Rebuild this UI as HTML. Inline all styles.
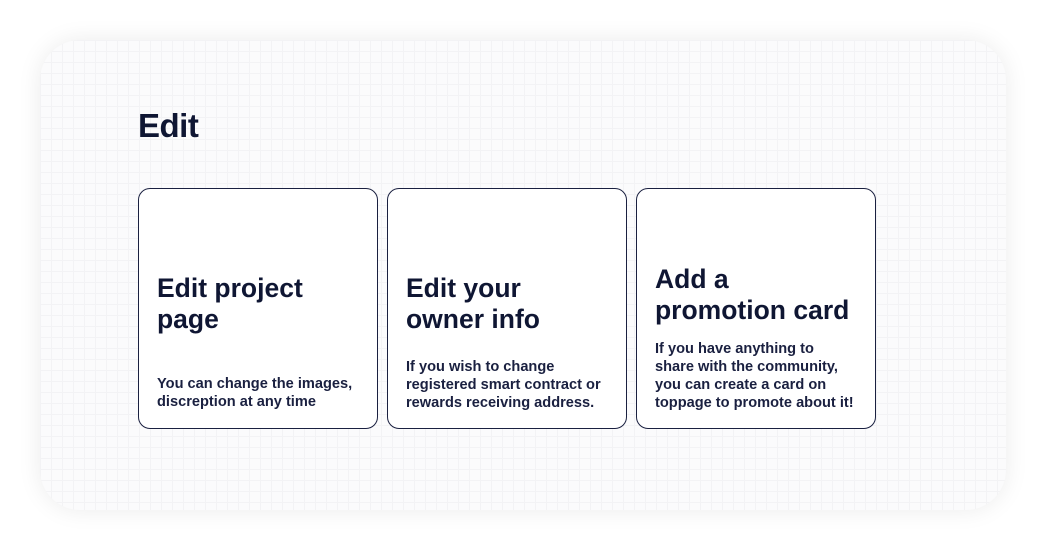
<!DOCTYPE html>
<html><head><style>
html,body{margin:0;padding:0;width:1046px;height:550px;background:#fff;overflow:hidden;font-family:"Liberation Sans",sans-serif;}
.outer{position:absolute;left:40px;top:40px;width:966px;height:470px;border-radius:40px;background-color:#fbfbfc;
background-image:linear-gradient(#f3f3f5 1px,transparent 1px),linear-gradient(90deg,#f3f3f5 1px,transparent 1px);background-size:11px 11px;
box-shadow:0 0 24px rgba(0,0,0,0.08);}
h1{position:absolute;left:138px;top:107px;margin:0;font-size:33px;font-weight:bold;color:#0f1633;letter-spacing:-0.5px;}
.card{position:absolute;top:188px;width:238px;height:239px;border:1px solid #1a2040;border-radius:12px;background:#fff;}
.t{position:absolute;left:18px;font-size:26.5px;font-weight:bold;color:#0f1633;line-height:31px;letter-spacing:0px;white-space:nowrap;}
.b{position:absolute;left:18px;font-size:14.6px;font-weight:bold;color:#1a2040;line-height:18px;white-space:nowrap;}
</style></head><body>
<div class="outer"></div>
<h1>Edit</h1>
<div class="card" style="left:138px"><div class="t" style="top:84px">Edit project<br>page</div><div class="b" style="top:186px">You can change the images,<br>discreption at any time</div></div>
<div class="card" style="left:387px"><div class="t" style="top:84px">Edit your<br>owner info</div><div class="b" style="top:169px">If you wish to change<br>registered smart contract or<br>rewards receiving address.</div></div>
<div class="card" style="left:636px"><div class="t" style="top:75px">Add a<br>promotion card</div><div class="b" style="top:151px">If you have anything to<br>share with the community,<br>you can create a card on<br>toppage to promote about it!</div></div>
</body></html>
